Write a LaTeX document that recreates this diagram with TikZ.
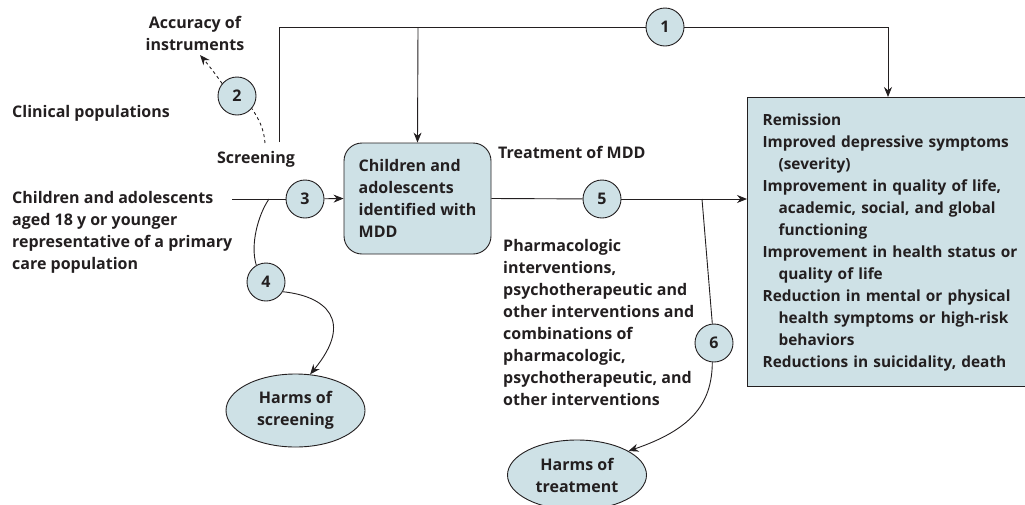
\documentclass[tikz,border=0pt]{standalone}
\usepackage{fontspec}
\setmainfont{Open Sans}
\usetikzlibrary{shapes.geometric,arrows.meta}
\definecolor{boxc}{RGB}{206,225,230}
\definecolor{linec}{RGB}{35,31,32}
\begin{document}
\begin{tikzpicture}[x=1pt,y=-1pt,
  txt/.style={font=\fontsize{16}{22}\selectfont\bfseries, text=linec, inner sep=0pt},
  lbl/.style={txt, align=left},
  num/.style={txt, circle, draw=linec, fill=boxc, line width=0.9pt, minimum size=38pt, inner sep=0pt},
  ell/.style={txt, ellipse, draw=linec, fill=boxc, line width=0.9pt, align=center},
  conn/.style={draw=linec, line width=0.9pt},
  arr/.style={conn, -{Stealth[length=10pt,width=8pt]}}]
\useasboundingbox (0,0) rectangle (1025,504);

% texts
\node[lbl, align=center] (acc) at (195,33) {Accuracy of\\instruments};
\node[lbl, anchor=west] (clin) at (12,113) {Clinical populations};
\node[lbl] (scr) at (256,159) {Screening};
\node[lbl, anchor=west] (pop) at (12,232) {Children and adolescents\\aged 18 y or younger\\representative of a primary\\care population};
\node[lbl, anchor=west] (treat) at (498,152) {Treatment of MDD};
\node[lbl, anchor=west] (pharm) at (503,322) {Pharmacologic\\interventions,\\psychotherapeutic and\\other interventions and\\combinations of\\pharmacologic,\\psychotherapeutic, and\\other interventions};

% boxes
\node[lbl, draw=linec, fill=boxc, line width=0.9pt, rounded corners=18pt,
      minimum width=147pt, minimum height=111pt] (mdd) at (417.5,198.5)
      {Children and\\adolescents\\identified with\\MDD};
\node[lbl, font=\fontsize{15.4}{22}\selectfont\bfseries, draw=linec, fill=boxc, line width=1.2pt, text width=265pt, inner xsep=15pt,
      minimum height=289pt, anchor=north west] (out) at (747,97)
      {Remission\\Improved depressive symptoms\\\hspace*{16pt}(severity)\\Improvement in quality of life,\\\hspace*{16pt}academic, social, and global\\\hspace*{16pt}functioning\\Improvement in health status or\\\hspace*{16pt}quality of life\\Reduction in mental or physical\\\hspace*{16pt}health symptoms or high-risk\\\hspace*{16pt}behaviors\\Reductions in suicidality, death};
\node[ell, minimum width=139pt, minimum height=73pt] (hs) at (295.5,410.5) {Harms of\\screening};
\node[ell, minimum width=139pt, minimum height=70pt] (ht) at (577,475) {Harms of\\treatment};

% numbered circles
\node[num] (n1) at (665,27) {1};
\node[num] (n2) at (237,96) {2};
\node[num] (n3) at (305,199) {3};
\node[num] (n4) at (266,282) {4};
\node[num] (n5) at (602,199) {5};
\node[num] (n6) at (714,343) {6};

% coordinates
\coordinate (scrtop) at (279,142);
\coordinate (c1r) at (888,27);
\coordinate (br) at (418,27);
\coordinate (dstart) at (265,143);
\coordinate (acctip) at (200,55);
\coordinate (popend) at (232,199);
\coordinate (j4) at (269,199);
\coordinate (j6) at (702,199);

% connectors
\draw[conn] (scrtop) |- (n1);
\draw[arr] (n1) -- (c1r) -- (c1r |- out.north);
\draw[arr] (br) -- (mdd.north);
\draw[conn, dash pattern=on 3pt off 3pt] (dstart) .. controls (264,128) and (258,118) .. (n2.-40);
\draw[arr, dash pattern=on 3pt off 3pt] (n2.140) .. controls (214,72) and (206,62) .. (acctip);
\draw[conn] (popend) -- (n3);
\draw[arr] (n3) -- (mdd.west);
\draw[conn] (j4) .. controls (258,215) and (250,245) .. (n4.120);
\draw[arr] (n4.-30) .. controls (325,296) and (355,320) .. (hs.68);
\draw[conn] (mdd.east) -- (n5);
\draw[arr] (n5) -- (out.west |- n5);
\draw[conn] (j6) -- (n6.95);
\draw[arr] (n6.-95) .. controls (712,405) and (690,430) .. (ht.25);
\end{tikzpicture}
\end{document}
